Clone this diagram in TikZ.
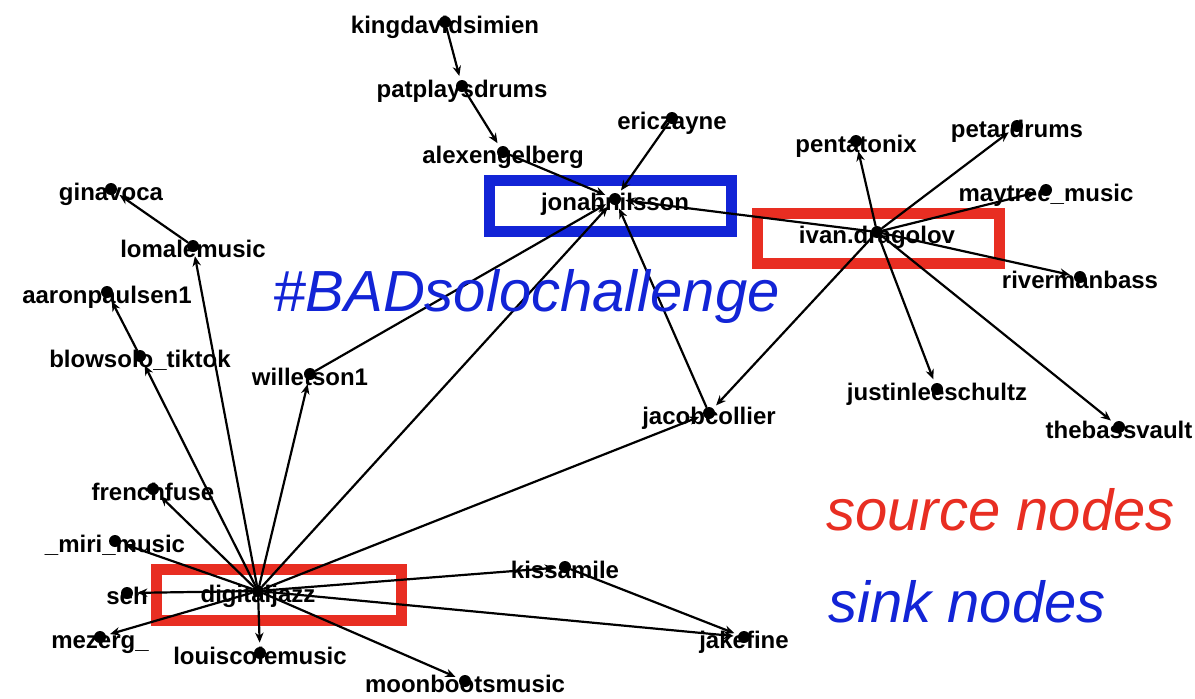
\documentclass[tikz,border=0pt]{standalone}
\usepackage{fontspec}
\setmainfont{Liberation Sans}
\usetikzlibrary{arrows.meta}
\definecolor{sinkblue}{RGB}{18,36,214}
\definecolor{srcred}{RGB}{232,46,34}
\begin{document}
\begin{tikzpicture}[x=0.5pt,y=-0.5pt,>={Stealth[length=5pt,width=4.2pt]},line join=round,line cap=round,
	font=\fontsize{12}{14}\selectfont\bfseries,
	dot/.style={circle,fill,inner sep=0pt,minimum size=6pt},
	lab/.style={anchor=base,yshift=-5.5pt,inner sep=0pt},
	edge/.style={->,line width=1.1pt,shorten >=2pt},
	hbox/.style={line width=5.5pt,line cap=butt,line join=miter},
	big/.style={font=\fontsize{29}{34}\selectfont\itshape,anchor=base west,inner sep=0pt}]
	
	\useasboundingbox (0,0) rectangle (1195,698);
	\def\vtx#1#2#3{\node[lab] (#1-l) at (#2) {#3}; \node[dot] (#1) at (#2) {};}
	
	\draw[hbox,sinkblue] (489,180) rectangle (731,231); % sink
	\draw[hbox,srcred] (757,213) rectangle (999,263) (156,569) rectangle (401,620); % sources
	
	\vtx{kds}{445,22}{kingdavidsimien}
	\vtx{ppd}{462,86}{patplaysdrums}
	\vtx{aeb}{503,152}{alexengelberg}
	\vtx{ecz}{672,118}{ericzayne}
	\vtx{jon}{615,199}{jonahnilsson}
	\vtx{ptx}{856,141}{pentatonix}
	\vtx{pet}{1017,126}{petardrums}
	\vtx{myt}{1046,190}{maytree\_music}
	\vtx{ivn}{877,232}{ivan.dragolov}
	\vtx{rmb}{1080,277}{rivermanbass}
	\vtx{jls}{937,389}{justinleeschultz}
	\vtx{tbv}{1119,427}{thebassvault}
	\vtx{jcc}{709,413}{jacobcollier}
	\vtx{gnv}{111,189}{ginavoca}
	\vtx{lml}{193,246}{lomalemusic}
	\vtx{apn}{107,292}{aaronpaulsen1}
	\vtx{bst}{140,356}{blowsolo\_tiktok}
	\vtx{wls}{310,374}{willetson1}
	\vtx{ffs}{153,489}{frenchfuse}
	\vtx{mir}{115,541}{\_miri\_music}
	\vtx{seh}{127,593}{seh}
	\vtx{dgj}{258,591}{digitaljazz}
	\vtx{mzg}{100,637}{mezerg\_}
	\vtx{lcm}{260,653}{louiscolemusic}
	\vtx{mbm}{465,681}{moonbootsmusic}
	\vtx{ksm}{565,567}{kissamile}
	\vtx{jkf}{744,637}{jakefine}
	
	\draw[edge] (kds)--(ppd); \draw[edge] (ppd)--(aeb); \draw[edge] (aeb)--(jon);
	\draw[edge] (ecz)--(jon); \draw[edge] (ivn)--(jon); \draw[edge] (wls)--(jon);
	\draw[edge] (dgj)--(jon); \draw[edge] (jcc)--(jon); % into the sink
	\foreach \t in {ptx,pet,myt,rmb,jls,tbv,jcc} \draw[edge] (ivn)--(\t);
	\foreach \t in {lml,bst,wls,jcc,ffs,mir,seh,mzg,lcm,mbm,ksm,jkf} \draw[edge] (dgj)--(\t);
	\draw[edge] (lml)--(gnv); \draw[edge] (bst)--(apn); \draw[edge] (ksm)--(jkf);
	
	\node[big,sinkblue] (tag) at (273,311) {\#BADsolochallenge};
	\node[big,srcred] (src) at (826,530) {source nodes};
	\node[big,sinkblue] (snk) at (828,622) {sink nodes};
\end{tikzpicture}
\end{document}
